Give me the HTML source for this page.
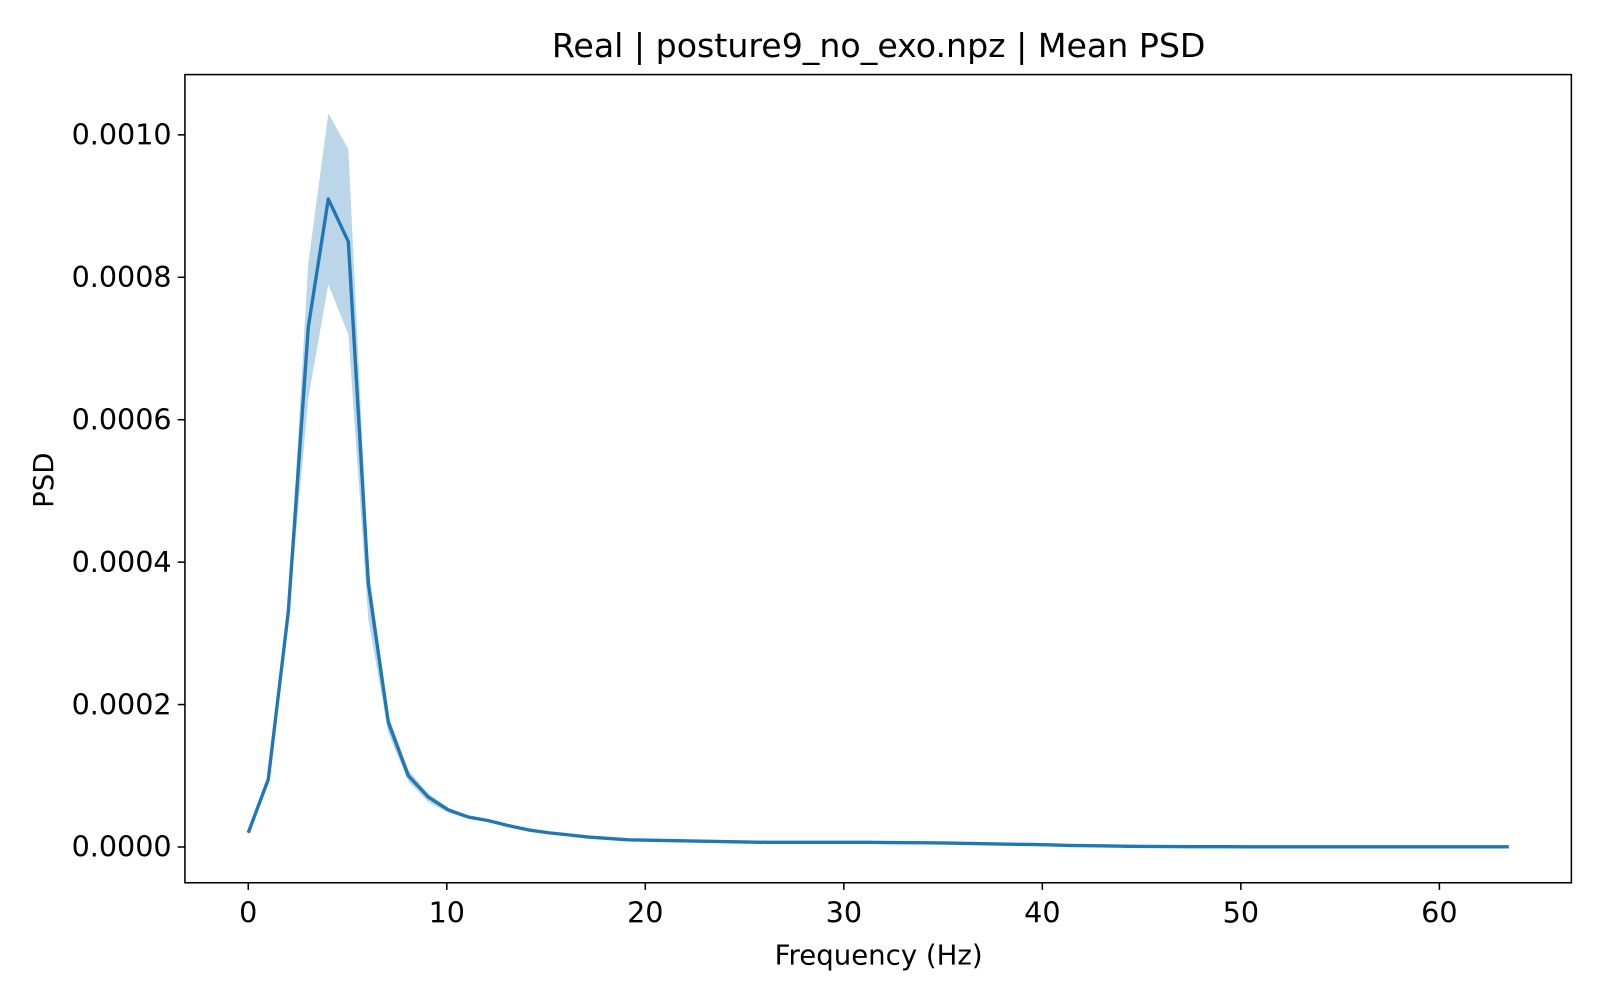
<!DOCTYPE html>
<html><head><meta charset="utf-8"><style>
body{margin:0;background:#fff;font-family:"Liberation Sans","DejaVu Sans",sans-serif;}
svg text{font-family:"DejaVu Sans","Liberation Sans",sans-serif;fill:#000}
</style></head><body>
<svg id="c" width="1600" height="1000" xmlns="http://www.w3.org/2000/svg">
<rect width="1600" height="1000" fill="#fff"/>
<g transform="scale(1.0217)">
<text x="860" y="56" font-size="32.5" text-anchor="middle">Real | posture9_no_exo.npz | Mean PSD</text>
<g id="plot"></g>
<rect x="181" y="73" width="1357" height="791" fill="none" stroke="#000" stroke-width="1.5"/>
<text x="860" y="944" font-size="27" text-anchor="middle">Frequency (Hz)</text>
<text transform="translate(52,470) rotate(-90)" font-size="27" text-anchor="middle">PSD</text>
</g>
</svg>
<script>
const meanPsd=[0.20,0.95,3.3,7.3,9.1,8.5,3.7,1.75,1.0,0.7,0.52,0.42,0.37,0.30,0.24,0.20,0.17,0.14,0.12,0.10,0.095,0.09,0.085,0.08,0.075,0.07,0.065,0.065,0.065,0.065,0.065,0.065,0.062,0.06,0.058,0.055,0.05,0.045,0.04,0.035,0.03,0.022,0.018,0.014,0.01,0.008,0.006,0.005,0.004,0.004,0.003,0.003,0.003,0.003,0.002,0.002,0.002,0.002,0.002,0.002,0.002,0.002,0.002,0.002];
const upperPsd=[0.22,1.0,3.4,8.2,10.3,9.8,3.95,1.85,1.08,0.75,0.55,0.44,0.38,0.31,0.25,0.21,0.18,0.15,0.13,0.11,0.1,0.095,0.09,0.085,0.08,0.075,0.07,0.07,0.07,0.07,0.07,0.07,0.066,0.064,0.062,0.058,0.053,0.048,0.043,0.037,0.032,0.024,0.02,0.015,0.011,0.009,0.007,0.006,0.005,0.005,0.004,0.004,0.004,0.004,0.003,0.003,0.003,0.003,0.003,0.003,0.003,0.003,0.003,0.003];
const lowerPsd=[0.18,0.88,3.2,6.3,7.9,7.2,3.2,1.6,0.92,0.63,0.48,0.40,0.35,0.29,0.23,0.19,0.16,0.13,0.11,0.09,0.09,0.085,0.08,0.075,0.07,0.065,0.06,0.06,0.06,0.06,0.06,0.06,0.058,0.056,0.054,0.052,0.047,0.042,0.037,0.033,0.028,0.02,0.016,0.013,0.009,0.007,0.005,0.004,0.003,0.003,0.002,0.002,0.002,0.002,0.001,0.001,0.001,0.001,0.001,0.001,0.001,0.001,0.001,0.001];
const freqStep=63.5/63;
const xTicks=[0,10,20,30,40,50,60];
const yTicks=[0,2,4,6,8,10];
const yTickLabels=["0.0000","0.0002","0.0004","0.0006","0.0008","0.0010"];
const X=f=>243+f*19.43, Y=v=>829-v*69.7;
const NS="http://www.w3.org/2000/svg", g=document.getElementById('plot');
function mk(t,a){const e=document.createElementNS(NS,t);for(const k in a)e.setAttribute(k,a[k]);g.appendChild(e);return e;}
let up=upperPsd.map((v,i)=>X(i*freqStep)+','+Y(v));
let lo=lowerPsd.map((v,i)=>X(i*freqStep)+','+Y(v)).reverse();
let band=mk('polygon',{points:up.concat(lo).join(' '),fill:'#1f77b4','fill-opacity':0.3});


let line=mk('polyline',{points:meanPsd.map((v,i)=>X(i*freqStep)+','+Y(v)).join(' '),fill:'none',stroke:'#1f77b4','stroke-width':3.3,'stroke-linejoin':'round'});


xTicks.forEach(t=>{
 let l=mk('line',{x1:X(t),x2:X(t),y1:864,y2:871,stroke:'#000','stroke-width':1.5});
 
 
 let s=mk('text',{x:X(t),y:903,'font-size':28,'text-anchor':'middle'});s.textContent=t;
 
 
});
yTicks.forEach((t,i)=>{
 let l=mk('line',{x1:174,x2:181,y1:Y(t),y2:Y(t),stroke:'#000','stroke-width':1.5});
 
 
 let s=mk('text',{x:168,y:Y(t)+9.5,'font-size':28,'text-anchor':'end'});s.textContent=yTickLabels[i];
 
 
});
</script>
</body></html>
